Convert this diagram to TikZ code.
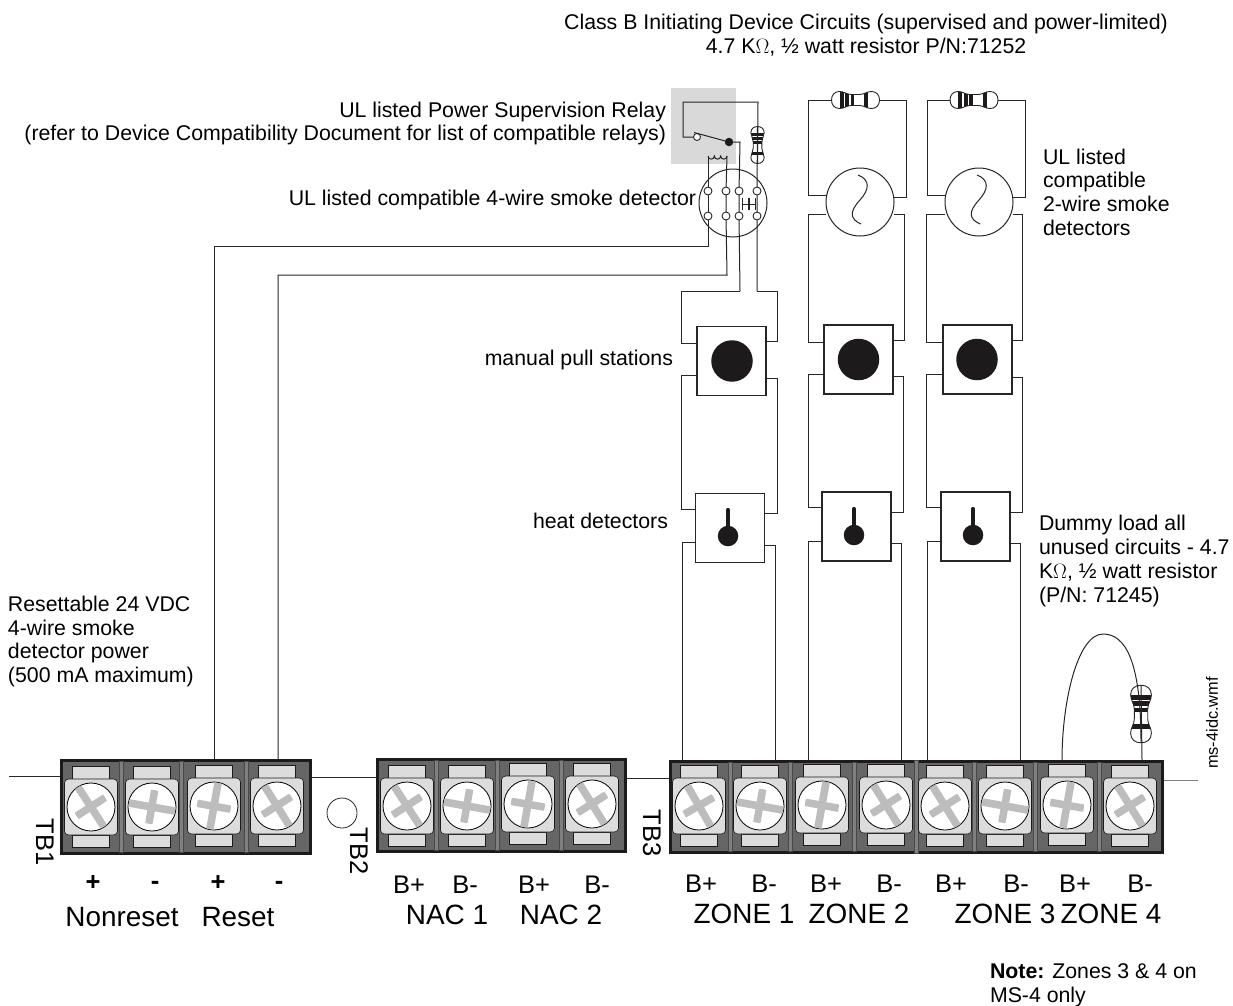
\documentclass[tikz,border=0pt]{standalone}
\usepackage{fontspec}
\setmainfont{Liberation Sans}
\usetikzlibrary{calc}
\definecolor{stripbody}{HTML}{666666}
\definecolor{stripedge}{HTML}{1C1A1A}
\definecolor{tabgrey}{HTML}{DCDCDC}
\definecolor{crossgrey}{HTML}{BDBDBD}
\definecolor{divgrey}{HTML}{7F7F7F}
\definecolor{relaygrey}{HTML}{D9D9D9}
\definecolor{wirecol}{HTML}{262626}
\newcommand{\fa}{\fontsize{21.3}{23.7}\selectfont}
\newcommand{\fb}{\fontsize{27.9}{30}\selectfont}
\newcommand{\fc}{\fontsize{25.5}{26}\selectfont}
\newcommand{\fd}{\fontsize{16.3}{18}\selectfont}
\tikzset{
  x=1pt,y=-1pt,
  wire/.style={draw=wirecol,line width=1pt,line join=miter},
  txt/.style={font=\fa,inner sep=0pt,outer sep=0pt,align=left},
  devbox/.style={draw=wirecol,line width=1.05pt,fill=white,minimum size=69pt,inner sep=0pt,outer sep=0pt,shape=rectangle},
  devround/.style={draw=wirecol,line width=1pt,fill=white,circle,minimum size=68pt,inner sep=0pt,outer sep=0pt},
  contact/.style={draw=wirecol,line width=0.9pt,fill=white,circle,minimum size=8pt,inner sep=0pt,outer sep=0pt},
  blackdot/.style={fill=stripedge,circle,inner sep=0pt,outer sep=0pt}
}
\newcommand{\term}[3]{%
  \begin{scope}[shift={(#1,#2)}]
    \draw[fill=tabgrey,draw=stripedge,line width=0.6pt] (-18.5,-41) rectangle (18.5,-27);
    \draw[fill=tabgrey,draw=stripedge,line width=0.6pt] (-18.5,28) rectangle (18.5,40);
    \draw[fill=tabgrey,draw=stripedge,line width=0.6pt,rounded corners=4pt] (-26.5,-28) rectangle (26.5,28);
    \draw[fill=white,draw=black,line width=0.8pt] (0,0) circle[radius=24];
    \begin{scope}[rotate=#3]
      \fill[crossgrey,rounded corners=0.8pt] (-23.5,-3.8) rectangle (23.5,3.8);
      \fill[crossgrey,rounded corners=0.8pt] (-4,-17) rectangle (3.5,17);
    \end{scope}
  \end{scope}}
\newcommand{\divbar}[3]{%
  \draw[fill=divgrey,draw=stripedge!80,line width=0.4pt] (#1-2,#2) rectangle (#1+2,#3);}
\newcommand{\resist}[6]{%
  \begin{scope}[shift={(#2,#3)},rotate=#4,xscale=#5,yscale=#6]
    \coordinate (#1-a) at (-24,0);
    \coordinate (#1-b) at (24,0);
    \def\respath{(-24,0) .. controls (-24,-5) and (-21,-8.5) .. (-16,-8.5) .. controls (-11,-8.5) and (-9,-5.5) .. (-4,-5.5) -- (4,-5.5) .. controls (9,-5.5) and (11,-8.5) .. (16,-8.5) .. controls (21,-8.5) and (24,-5) .. (24,0) .. controls (24,5) and (21,8.5) .. (16,8.5) .. controls (11,8.5) and (9,5.5) .. (4,5.5) -- (-4,5.5) .. controls (-9,5.5) and (-11,8.5) .. (-16,8.5) .. controls (-21,8.5) and (-24,5) .. (-24,0) -- cycle}
    \fill[white] \respath;
    \begin{scope}
      \clip \respath;
      \fill[stripedge] (-16,-9) rectangle (-12,9);
      \fill[stripedge] (-10.5,-9) rectangle (-6.5,9);
      \fill[stripedge] (-5,-9) rectangle (-1.5,9);
      \fill[stripedge] (8.5,-9) rectangle (12.5,9);
    \end{scope}
    \draw[draw=wirecol,line width=0.9pt] \respath;
  \end{scope}}
\begin{document}
\begin{tikzpicture}
\useasboundingbox (0,0) rectangle (1233,1005);
% relay shading
\fill[relaygrey] (671,88) rectangle (736,164);

% terminal strip anchors
\coordinate (lineA) at (9,776);
\coordinate (lineB) at (1198,780);
\coordinate (tb1L) at (60,776);
\coordinate (tb1R) at (311,777);
\coordinate (nacL) at (376,777);
\coordinate (nacR) at (626,778);
\coordinate (tb3L) at (669,778);
\coordinate (tb3R) at (1163,780);
\draw[line width=0.9pt,draw=wirecol] (lineA) -- (tb1L);
\draw[line width=0.9pt,draw=wirecol] (tb1R) -- (nacL);
\draw[line width=0.9pt,draw=wirecol] (nacR) -- (tb3L);
\draw[line width=0.9pt,draw=divgrey] (tb3R) -- (lineB);

% TB1
\draw[fill=stripbody,draw=stripedge,line width=3pt] (61,760) rectangle (310,853);
\divbar{121}{761}{852}\divbar{181.5}{761}{852}\divbar{246}{761}{852}
\term{91}{807}{-57}\term{152}{807}{-10}\term{214}{806}{80}\term{277}{806}{-58}
% NAC
\draw[fill=stripbody,draw=stripedge,line width=3pt] (377,759) rectangle (625,851);
\divbar{436}{760}{850}\divbar{497}{760}{850}\divbar{561}{760}{850}
\term{407}{806}{-57}\term{467}{806}{-10}\term{528}{804}{80}\term{592}{804}{-58}
% TB3
\draw[fill=stripbody,draw=stripedge,line width=3pt] (670,761) rectangle (1162,852);
\divbar{730}{762}{851}\divbar{790}{762}{851}\divbar{854}{762}{851}\divbar{916}{760}{853}\divbar{974}{762}{851}\divbar{1035}{762}{851}\divbar{1099}{762}{851}
\term{699}{806}{-60}\term{760}{806}{-10}\term{822}{805}{80}\term{886}{805}{-58}\term{945}{806}{-58}\term{1005}{806}{-10}\term{1067}{805}{80}\term{1130}{806}{-58}

% strip wire landing points
\coordinate (res4a) at (214,759);
\coordinate (res4b) at (278,759);
\coordinate (z1a) at (682,760);
\coordinate (z1b) at (775,760);
\coordinate (z2a) at (808,760);
\coordinate (z2b) at (901,760);
\coordinate (z3a) at (927,760);
\coordinate (z3b) at (1020,760);
\coordinate (z4a) at (1062,760);
\coordinate (z4b) at (1142,760);

% relay and 4-wire detector
\node[devround] (det4) at (733,203) {};
\node[contact] (c1a) at (708,191) {};
\node[contact] (c1b) at (708,216) {};
\node[contact] (c2a) at (726,191) {};
\node[contact] (c2b) at (726,216) {};
\node[contact] (c3a) at (739,191) {};
\node[contact] (c3b) at (739,216) {};
\node[contact] (c4a) at (757,191) {};
\node[contact] (c4b) at (757,216) {};
\draw[line width=0.8pt,draw=wirecol] (742.5,198) -- (742.5,210) (748,198) -- (748,210) (742.5,204) -- (748,204) (755,198) -- (755,210) (749.5,198) -- (749.5,210) (749.5,204) -- (755,204);
\node[contact,minimum size=7pt] (relayNC) at (697,137) {};
\node[blackdot,minimum size=8.5pt] (relayCom) at (729,142) {};
\draw[wire] (694,132.5) -- (relayCom);
\coordinate (coilL) at (708,156);
\coordinate (coilR) at (727,156);
\draw[wire] (coilL) arc[start angle=180,end angle=0,radius=3.17] arc[start angle=180,end angle=0,radius=3.17] arc[start angle=180,end angle=0,radius=3.17];

\resist{rr}{757.5}{145}{-90}{0.77}{0.78}
\coordinate (tapA) at (740,291);
\coordinate (tapB) at (757,291);
\draw[wire] (relayNC.west) -- (683,137) -- (683,102) -- (758,102) -- (rr-b);
\draw[wire] (coilL) -- (c1a) (c1a) -- (c1b) (c1b) -- (708,246) -- (214,246) -- (res4a);
\draw[wire] (coilR) -- (c2a) (c2a) -- (c2b) (c2b) -- (727,275) -- (278,275) -- (res4b);
\draw[wire] (relayCom) -- (740,142) -- (c3a) (c3a) -- (c3b) (c3b) -- (tapA);
\draw[wire] (rr-a) -- (c4a) (c4a) -- (c4b) (c4b) -- (tapB);

% column 1 pull + heat
\node[devbox] (pull1) at (731.5,361) {};
\node[blackdot,minimum size=41.5pt] (pd1) at (732,361) {};
\node[devbox] (heat1) at (730,528) {};
\node[blackdot,minimum size=20.5pt] (hd1) at (728,536) {};
\draw[line width=4.2pt,draw=stripedge,line cap=round] (728,510) -- (hd1);
\draw[wire] (tapA) -- (681,291) -- (681,343) -- ([yshift=18pt]pull1.west);
\draw[wire] (tapB) -- (777,291) -- (777,341) -- ([yshift=20pt]pull1.east);
\draw[wire] ([yshift=-14pt]pull1.west) -- (681,375) -- (681,509) -- ([yshift=19pt]heat1.west);
\draw[wire] ([yshift=-17pt]pull1.east) -- (777,378) -- (777,513) -- ([yshift=15pt]heat1.east);
\draw[wire] ([yshift=-14pt]heat1.west) -- (682,542) -- (z1a);
\draw[wire] ([yshift=-17pt]heat1.east) -- (775,545) -- (z1b);

% column 2
\resist{r2}{855.5}{100}{0}{1}{1}
\node[devround] (det2) at (860,202) {};
\draw[wire] (858,175) .. controls (871,180) and (869,190) .. (860,200) .. controls (849,212) and (850,219) .. (861,224);
\node[devbox] (pull2) at (858.5,359.5) {};
\node[blackdot,minimum size=41.5pt] (pd2) at (858.5,359.5) {};
\node[devbox] (heat2) at (856.5,526.5) {};
\node[blackdot,minimum size=20.5pt] (hd2) at (854,535) {};
\draw[line width=4.2pt,draw=stripedge,line cap=round] (854,509) -- (hd2);
\draw[wire] (r2-a) -- (808,100) -- (808,195) -- ([yshift=7pt]det2.west);
\draw[wire] (r2-b) -- (906,100) -- (906,197) -- ([yshift=5pt]det2.east);
\draw[wire] ([yshift=-12pt]det2.west) -- (808,214) -- (808,342) -- ([yshift=17.5pt]pull2.west);
\draw[wire] ([yshift=-12pt]det2.east) -- (904,214) -- (904,340) -- ([yshift=19.5pt]pull2.east);
\draw[wire] ([yshift=-14.5pt]pull2.west) -- (808,374) -- (808,507) -- ([yshift=19.5pt]heat2.west);
\draw[wire] ([yshift=-16.5pt]pull2.east) -- (903,376) -- (903,512) -- ([yshift=14.5pt]heat2.east);
\draw[wire] ([yshift=-14.5pt]heat2.west) -- (808,541) -- (z2a);
\draw[wire] ([yshift=-16.5pt]heat2.east) -- (901,543) -- (z2b);

% column 3
\resist{r3}{974}{100}{0}{1}{1}
\node[devround] (det3) at (979,202) {};
\draw[wire] (977,175) .. controls (990,180) and (988,190) .. (979,200) .. controls (968,212) and (969,219) .. (980,224);
\node[devbox] (pull3) at (977.5,359.5) {};
\node[blackdot,minimum size=41.5pt] (pd3) at (977,359.5) {};
\node[devbox] (heat3) at (975.5,526.5) {};
\node[blackdot,minimum size=20.5pt] (hd3) at (973,535) {};
\draw[line width=4.2pt,draw=stripedge,line cap=round] (973,509) -- (hd3);
\draw[wire] (r3-a) -- (927,100) -- (927,195) -- ([yshift=7pt]det3.west);
\draw[wire] (r3-b) -- (1025,100) -- (1025,197) -- ([yshift=5pt]det3.east);
\draw[wire] ([yshift=-12pt]det3.west) -- (926,214) -- (926,342) -- ([yshift=17.5pt]pull3.west);
\draw[wire] ([yshift=-12pt]det3.east) -- (1022,214) -- (1022,340) -- ([yshift=19.5pt]pull3.east);
\draw[wire] ([yshift=-14.5pt]pull3.west) -- (926,374) -- (926,507) -- ([yshift=19.5pt]heat3.west);
\draw[wire] ([yshift=-17.5pt]pull3.east) -- (1022,377) -- (1022,512) -- ([yshift=14.5pt]heat3.east);
\draw[wire] ([yshift=-14.5pt]heat3.west) -- (927,541) -- (z3a);
\draw[wire] ([yshift=-16.5pt]heat3.east) -- (1020,543) -- (z3b);

% dummy load
\resist{rd}{1141}{714}{-90}{1.2}{1.22}
\draw[wire] (z4a) .. controls (1062,700) and (1078,634) .. (1103,634) .. controls (1125,634) and (1141,660) .. (rd-b);
\draw[wire] (rd-a) -- (z4b);

% TB2 hole
\node[draw=wirecol,line width=0.8pt,circle,minimum size=30pt,inner sep=0pt] (hole) at (342,813) {};

% labels
\node[txt,align=center] (t1) at (866,35) {Class B Initiating Device Circuits (supervised and power-limited)\\4.7 K$\Omega$, ½ watt resistor P/N:71252};
\node[txt,align=right,anchor=east] (t2) at (666,123.5) {UL listed Power Supervision Relay\\(refer to Device Compatibility Document for list of compatible relays)};
\node[txt,anchor=east] (t3) at (696,200) {UL listed compatible 4-wire smoke detector};
\node[txt,anchor=west] (t4) at (1043,192) {UL listed\\compatible\\2-wire smoke\\detectors};
\node[txt,anchor=east] (t5) at (673,360) {manual pull stations};
\node[txt,anchor=east] (t6) at (668,520.5) {heat detectors};
\node[txt,anchor=west] (t7) at (1039,561) {Dummy load all\\unused circuits - 4.7\\K$\Omega$, ½ watt resistor\\(P/N: 71245)};
\node[txt,anchor=west] (t8) at (8,641.5) {Resettable 24 VDC\\4-wire smoke\\detector power\\(500 mA maximum)};
\node[txt,anchor=west] (t9) at (990,985) {\textbf{Note:} Zones 3 \& 4 on\\MS-4 only};
\node[txt,font=\fd,rotate=90] (t10) at (1212,723) {ms-4idc.wmf};

\node[txt,font=\fc,rotate=-90] (tb1) at (45,842) {TB1};
\node[txt,font=\fc,rotate=-90] (tb2) at (359,851) {TB2};
\node[txt,font=\fc,rotate=-90] (tb3) at (652,833) {TB3};

\node[txt,font=\fc\bfseries] (p1) at (93,883) {+};
\node[txt,font=\fc\bfseries] (p2) at (155,885) {-};
\node[txt,font=\fc\bfseries] (p3) at (218,883) {+};
\node[txt,font=\fc\bfseries] (p4) at (279,885) {-};
\node[txt,font=\fb] (l1) at (122,917) {Nonreset};
\node[txt,font=\fb] (l2) at (238,917) {Reset};
\node[txt,font=\fc] (b1) at (409,885) {B+};
\node[txt,font=\fc] (b2) at (465,885) {B-};
\node[txt,font=\fc] (b3) at (534,885) {B+};
\node[txt,font=\fc] (b4) at (597,885) {B-};
\node[txt,font=\fb] (l3) at (447,915) {NAC 1};
\node[txt,font=\fb] (l4) at (561,915) {NAC 2};
\node[txt,font=\fc] (b5) at (701,884) {B+};
\node[txt,font=\fc] (b6) at (764,884) {B-};
\node[txt,font=\fc] (b7) at (826,884) {B+};
\node[txt,font=\fc] (b8) at (889,884) {B-};
\node[txt,font=\fc] (b9) at (951,884) {B+};
\node[txt,font=\fc] (b10) at (1016,884) {B-};
\node[txt,font=\fc] (b11) at (1075,884) {B+};
\node[txt,font=\fc] (b12) at (1140,884) {B-};
\node[txt,font=\fb] (l5) at (744,914) {ZONE 1};
\node[txt,font=\fb] (l6) at (859,914) {ZONE 2};
\node[txt,font=\fb] (l7) at (1005,914) {ZONE 3};
\node[txt,font=\fb] (l8) at (1111,914) {ZONE 4};
\end{tikzpicture}
\end{document}
